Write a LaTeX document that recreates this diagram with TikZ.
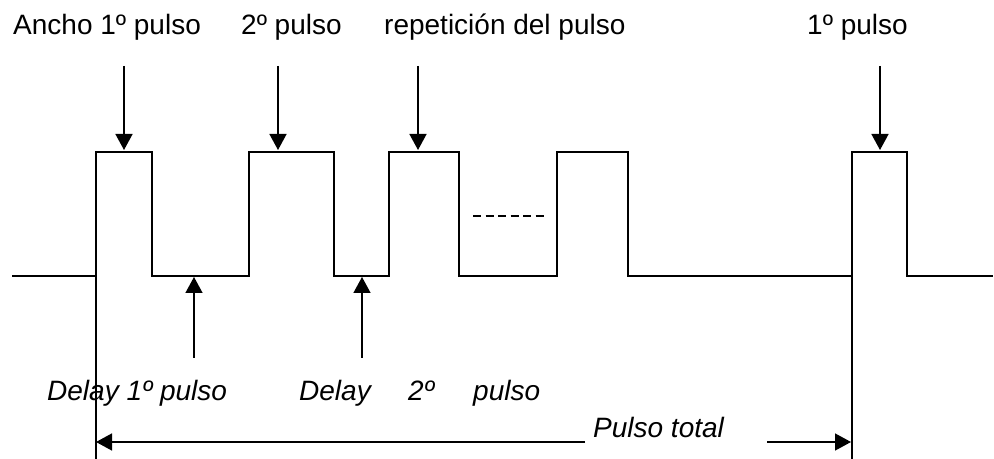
\documentclass[tikz,border=0pt]{standalone}
\usepackage{fontspec}
\setmainfont{Liberation Sans}
\usetikzlibrary{arrows.meta}
\tikzset{
  wave/.style={line width=2.3bp, line join=miter},
  marker/.style={line width=1.6bp},
  arr/.style={line width=1.5bp, -{Triangle[width=17bp,length=16bp]}},
  lbl/.style={inner sep=0pt, anchor=base west, font=\fontsize{28bp}{34bp}\selectfont},
  ilbl/.style={lbl, font=\fontsize{28bp}{34bp}\selectfont\itshape},
  dots/.style={line width=1.5bp, dash pattern=on 8bp off 4.5bp}
}
\begin{document}
\begin{tikzpicture}[x=1bp,y=-1bp]
\useasboundingbox (0,0) rectangle (994,459);
% waveform
\coordinate (w0) at (12,276);
\coordinate (wend) at (993,276);
\draw[wave] (w0) -- (96,276) -- (96,152) -- (152,152) -- (152,276) -- (249,276) -- (249,152) -- (334,152) -- (334,276) -- (389,276) -- (389,152) -- (459,152) -- (459,276) -- (557,276) -- (557,152) -- (628,152) -- (628,276) -- (852,276) -- (852,152) -- (907,152) -- (907,276) -- (wend);
% dashed continuation
\coordinate (d0) at (473,216);
\coordinate (d1) at (545,216);
\draw[dots] (d0) -- (d1);
% top labels
\node[lbl] (t1) at (13,35) {Ancho 1º pulso};
\node[lbl] (t2) at (241,35) {2º pulso};
\node[lbl] (t3) at (384,35) {repetición del pulso};
\node[lbl] (t4) at (807,35) {1º pulso};
% down arrows
\coordinate (a1s) at (124,66); \coordinate (a1e) at (124,150);
\coordinate (a2s) at (278,66); \coordinate (a2e) at (278,150);
\coordinate (a3s) at (418,66); \coordinate (a3e) at (418,150);
\coordinate (a4s) at (880,66); \coordinate (a4e) at (880,150);
\draw[arr] (a1s) -- (a1e);
\draw[arr] (a2s) -- (a2e);
\draw[arr] (a3s) -- (a3e);
\draw[arr] (a4s) -- (a4e);
% up arrows (delays)
\coordinate (u1s) at (194,358); \coordinate (u1e) at (194,277);
\coordinate (u2s) at (362,358); \coordinate (u2e) at (362,277);
\draw[arr] (u1s) -- (u1e);
\draw[arr] (u2s) -- (u2e);
% markers
\coordinate (m1t) at (96,276); \coordinate (m1b) at (96,459);
\coordinate (m2t) at (852,276); \coordinate (m2b) at (852,459);
\draw[marker] (m1t) -- (m1b);
\draw[marker] (m2t) -- (m2b);
% bottom labels
\node[ilbl] (b1) at (47,400) {Delay 1º pulso};
\node[ilbl] (b2) at (299,400) {Delay};
\node[ilbl] (b3) at (408,400) {2º};
\node[ilbl] (b4) at (473,400) {pulso};
\node[ilbl] (pt) at (593,437) {Pulso total};
% total arrow
\coordinate (pl) at (96,442); \coordinate (pls) at (585,442);
\coordinate (pr) at (851,442); \coordinate (prs) at (767,442);
\draw[arr] (pls) -- (pl);
\draw[arr] (prs) -- (pr);
\end{tikzpicture}
\end{document}
